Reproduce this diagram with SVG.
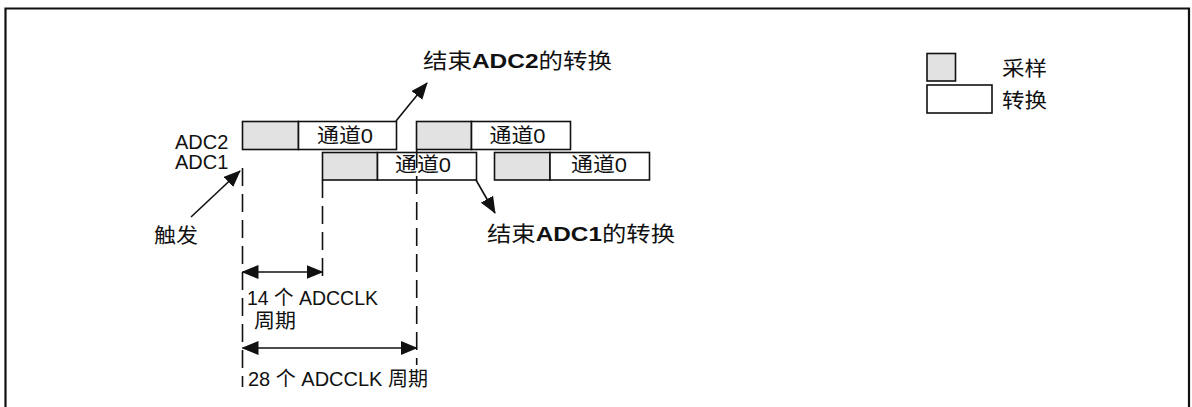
<svg xmlns="http://www.w3.org/2000/svg" width="1192" height="407" viewBox="0 0 1192 407">
<style>
text{font-family:"Liberation Sans","Noto Sans CJK SC",sans-serif;font-size:20px;fill:#111}
.box{fill:#fff;stroke:#111;stroke-width:1.6}
.smp{fill:#e2e2e2;stroke:#111;stroke-width:1.6}
.ln{stroke:#111;stroke-width:1.6;fill:none}
.dash{stroke:#111;stroke-width:1.6;fill:none;stroke-dasharray:18 8}
.b{font-weight:bold}
.big{font-size:21px}
</style>
<defs>
<marker id="ah" markerUnits="userSpaceOnUse" markerWidth="17" markerHeight="14" refX="16" refY="7" viewBox="0 0 17 14" orient="auto-start-reverse">
<path d="M0,0 L17,7 L0,14 z" fill="#111"/>
</marker>
</defs>
<path d="M5.5,407 V8.5 H1189 V407" fill="none" stroke="#111" stroke-width="2.2"/>
<g id="labels">
<text x="175" y="149">ADC2</text>
<text x="175" y="169">ADC1</text>
</g>
<g id="adc2-conv1">
<rect class="smp" x="242.5" y="121.5" width="56" height="28"/>
<rect class="box" x="298.5" y="121.5" width="98" height="28"/>
<text x="345" y="143" text-anchor="middle" textLength="56" lengthAdjust="spacingAndGlyphs">通道0</text>
</g>
<g id="adc2-conv2">
<rect class="smp" x="416.5" y="121.5" width="55" height="28"/>
<rect class="box" x="471.5" y="121.5" width="99" height="28"/>
<text x="517.5" y="143" text-anchor="middle" textLength="56" lengthAdjust="spacingAndGlyphs">通道0</text>
</g>
<g id="adc1-conv1">
<rect class="smp" x="322.5" y="152.5" width="55" height="27.5"/>
<rect class="box" x="377.5" y="152.5" width="99" height="27.5"/>
<text x="423" y="172" text-anchor="middle" textLength="56" lengthAdjust="spacingAndGlyphs">通道0</text>
</g>
<g id="adc1-conv2">
<rect class="smp" x="494.5" y="152.5" width="55.5" height="27.5"/>
<rect class="box" x="550" y="152.5" width="99.5" height="27.5"/>
<text x="599" y="172" text-anchor="middle" textLength="56" lengthAdjust="spacingAndGlyphs">通道0</text>
</g>
<g id="legend">
<rect class="smp" x="927" y="53.5" width="28.5" height="27.5"/>
<rect class="box" x="927" y="85" width="65" height="28"/>
<text x="1002" y="76" textLength="45" lengthAdjust="spacingAndGlyphs">采样</text>
<text x="1002" y="108" textLength="45" lengthAdjust="spacingAndGlyphs">转换</text>
</g>
<g id="annotations">
<text class="big" x="423" y="68" textLength="189" lengthAdjust="spacingAndGlyphs">结束<tspan class="b">ADC2</tspan>的转换</text>
<text class="big" x="487" y="241" textLength="188" lengthAdjust="spacingAndGlyphs">结束<tspan class="b">ADC1</tspan>的转换</text>
<text x="154" y="243" textLength="44" lengthAdjust="spacingAndGlyphs">触发</text>
<text x="247" y="305" textLength="131" lengthAdjust="spacingAndGlyphs">14 个 ADCCLK</text>
<text x="254" y="328" textLength="42" lengthAdjust="spacingAndGlyphs">周期</text>
<text x="248" y="386" textLength="180" lengthAdjust="spacingAndGlyphs">28 个 ADCCLK 周期</text>
</g>
<g id="connectors">
<line class="dash" x1="242.5" y1="168" x2="242.5" y2="387"/>
<line class="dash" x1="322.5" y1="180" x2="322.5" y2="277"/>
<line class="dash" x1="416.7" y1="150" x2="416.7" y2="365"/>
<line class="ln" x1="396" y1="121" x2="427" y2="83" marker-end="url(#ah)"/>
<line class="ln" x1="476" y1="180" x2="495" y2="213" marker-end="url(#ah)"/>
<line class="ln" x1="191" y1="217" x2="240" y2="171" marker-end="url(#ah)"/>
<line class="ln" x1="242.5" y1="272" x2="322.5" y2="272" marker-start="url(#ah)" marker-end="url(#ah)"/>
<line class="ln" x1="242.5" y1="348" x2="416.7" y2="348" marker-start="url(#ah)" marker-end="url(#ah)"/>
</g>
</svg>
